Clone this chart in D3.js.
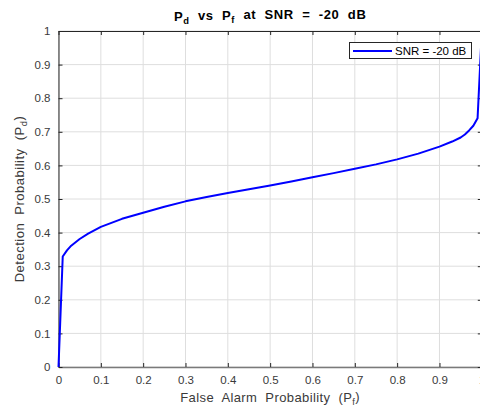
<!DOCTYPE html>
<html>
<head>
<meta charset="utf-8">
<script src="https://cdn.jsdelivr.net/npm/d3@7"></script>
<style>
  body { margin: 0; background: #fff; }
  svg text { font-family: "Liberation Sans", Arial, sans-serif; white-space: pre; }
</style>
</head>
<body>
<svg id="chart" width="480" height="408"></svg>
<script>
// Pf / Pd pairs
const pfValues = [0, 0.01, 0.02, 0.03, 0.05, 0.07, 0.1, 0.15, 0.2, 0.25, 0.3, 0.35, 0.4, 0.45,
                  0.5, 0.55, 0.6, 0.65, 0.7, 0.75, 0.8, 0.85, 0.9, 0.93, 0.95, 0.96, 0.97, 0.98, 0.99, 1];
const pdValues = [0, 0.329, 0.347, 0.361, 0.381, 0.397, 0.417, 0.441, 0.459, 0.477, 0.493, 0.506, 0.518, 0.529,
                  0.540, 0.552, 0.565, 0.577, 0.590, 0.603, 0.618, 0.635, 0.656, 0.671, 0.683, 0.692, 0.704, 0.718, 0.740, 1];
const xTicks = [0, 0.1, 0.2, 0.3, 0.4, 0.5, 0.6, 0.7, 0.8, 0.9, 1];
const yTicks = [0, 0.1, 0.2, 0.3, 0.4, 0.5, 0.6, 0.7, 0.8, 0.9, 1];
const legendLabel = "SNR = -20 dB";

const svg = d3.select("#chart");
const plotLeft = 58.5, plotRight = 481.8, plotTop = 31, plotBottom = 367;

const x = d3.scaleLinear().domain([0, 1]).range([plotLeft, plotRight]);
const y = d3.scaleLinear().domain([0, 1]).range([plotBottom, plotTop]);

const axisColor = "#262626";

// grid
const grid = svg.append("g");
grid.selectAll(".gx").data(xTicks).enter().append("line")
    .attr("x1", d => x(d)).attr("x2", d => x(d))
    .attr("y1", plotTop).attr("y2", plotBottom)
    .attr("stroke", "#dedede").attr("stroke-width", 1);
grid.selectAll(".gy").data(yTicks).enter().append("line")
    .attr("x1", plotLeft).attr("x2", plotRight)
    .attr("y1", d => y(d)).attr("y2", d => y(d))
    .attr("stroke", "#dedede").attr("stroke-width", 1);

// axes (MATLAB style: ticks inward, box on)
const fmt = d => d === 0 || d === 1 ? String(d) : d3.format(".1f")(d);

const xAxis = svg.append("g")
    .attr("transform", `translate(0,${plotBottom})`)
    .call(d3.axisBottom(x).tickValues(xTicks).tickSizeInner(-4).tickSizeOuter(0).tickPadding(9).tickFormat(fmt));
const yAxis = svg.append("g")
    .attr("transform", `translate(${plotLeft},0)`)
    .call(d3.axisLeft(y).tickValues(yTicks).tickSizeInner(-4).tickSizeOuter(0).tickPadding(8).tickFormat(fmt));
const xTop = svg.append("g")
    .attr("transform", `translate(0,${plotTop})`)
    .call(d3.axisTop(x).tickValues(xTicks).tickSizeInner(-4).tickSizeOuter(0).tickFormat(""));
const yRight = svg.append("g")
    .attr("transform", `translate(${plotRight},0)`)
    .call(d3.axisRight(y).tickValues(yTicks).tickSizeInner(-4).tickSizeOuter(0).tickFormat(""));

[xAxis, yAxis, xTop, yRight].forEach(g => {
    g.select(".domain").attr("stroke", axisColor);
    g.selectAll(".tick line").attr("stroke", axisColor);
    g.selectAll("text").attr("fill", "#3a3a3a").style("font-size", "11.5px");
});
xAxis.select(".domain").attr("stroke", "#7a7a7a").attr("stroke-width", 1.6);

// curve
const points = pfValues.map((pf, i) => [pf, pdValues[i]]);
const line = d3.line().x(d => x(d[0])).y(d => y(d[1]));
svg.append("path")
    .datum(points)
    .attr("fill", "none")
    .attr("stroke", "#0000ff")
    .attr("stroke-width", 2)
    .attr("stroke-linejoin", "round")
    .attr("d", line);

// helper for text with subscript
function subText(sel, parts) {
    parts.forEach(p => {
        const t = sel.append("tspan").text(p.t);
        if (p.sub) {
            t.attr("font-size", "0.72em").attr("dy", "0.3em");
        } else if (p.back) {
            t.attr("dy", "-0.3em");
        }
    });
}

// title
const title = svg.append("text")
    .attr("x", (plotLeft + plotRight) / 2).attr("y", 21)
    .attr("text-anchor", "middle")
    .attr("font-size", "13px").attr("font-weight", "bold").attr("fill", "#000")
    .attr("letter-spacing", "0.6px");
subText(title, [{t: "P"}, {t: "d", sub: true}, {t: "  vs  P", back: true}, {t: "f", sub: true}, {t: "  at  SNR  =  -20  dB", back: true}]);

// x label
const xl = svg.append("text")
    .attr("x", (plotLeft + plotRight) / 2).attr("y", 402)
    .attr("text-anchor", "middle")
    .attr("font-size", "13px").attr("fill", "#3a3a3a")
    .attr("letter-spacing", "0.4px");
subText(xl, [{t: "False  Alarm  Probability  (P"}, {t: "f", sub: true}, {t: ")", back: true}]);

// y label
const yl = svg.append("text")
    .attr("transform", `translate(24,${(plotTop + plotBottom) / 2}) rotate(-90)`)
    .attr("text-anchor", "middle")
    .attr("font-size", "13px").attr("fill", "#3a3a3a")
    .attr("letter-spacing", "0.5px");
subText(yl, [{t: "Detection  Probability  (P"}, {t: "d", sub: true}, {t: ")", back: true}]);

// legend
const lg = svg.append("g");
lg.append("rect")
    .attr("x", 349.5).attr("y", 42.5).attr("width", 122).attr("height", 16)
    .attr("fill", "#fff").attr("stroke", "#262626").attr("stroke-width", 1);
lg.append("line")
    .attr("x1", 353).attr("x2", 392).attr("y1", 51).attr("y2", 51)
    .attr("stroke", "#0000ff").attr("stroke-width", 2);
lg.append("text")
    .attr("x", 395).attr("y", 55)
    .attr("font-size", "11.5px").attr("fill", "#000")
    .text(legendLabel);
</script>
</body>
</html>
